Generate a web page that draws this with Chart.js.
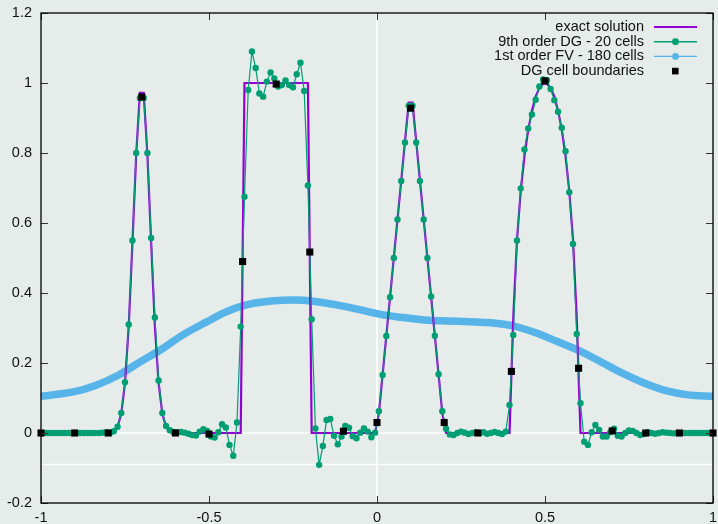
<!DOCTYPE html>
<html>
<head>
<meta charset="utf-8">
<script src="https://cdn.jsdelivr.net/npm/chart.js@4.4.0/dist/chart.umd.min.js"></script>
<style>
  html, body { margin: 0; padding: 0; background: #e5ecea; }
  canvas { display: block; }
</style>
</head>
<body>
<canvas id="advChart" width="718" height="524"></canvas>
<script>
// sample points of the DG solution, 9 per cell, 20 cells
var dgX = [
  -0.9944, -0.9833, -0.9722, -0.9611, -0.95, -0.9389, -0.9278, -0.9167, -0.9056,
  -0.8944, -0.8833, -0.8722, -0.8611, -0.85, -0.8389, -0.8278, -0.8167, -0.8056,
  -0.7944, -0.7833, -0.7722, -0.7611, -0.75, -0.7389, -0.7278, -0.7167, -0.7056,
  -0.6944, -0.6833, -0.6722, -0.6611, -0.65, -0.6389, -0.6278, -0.6167, -0.6056,
  -0.5944, -0.5833, -0.5722, -0.5611, -0.55, -0.5389, -0.5278, -0.5167, -0.5056,
  -0.4944, -0.4833, -0.4722, -0.4611, -0.45, -0.4389, -0.4278, -0.4167, -0.4056,
  -0.3944, -0.3833, -0.3722, -0.3611, -0.35, -0.3389, -0.3278, -0.3167, -0.3056,
  -0.2944, -0.2833, -0.2722, -0.2611, -0.25, -0.2389, -0.2278, -0.2167, -0.2056,
  -0.1944, -0.1833, -0.1722, -0.1611, -0.15, -0.1389, -0.1278, -0.1167, -0.1056,
  -0.0944, -0.0833, -0.0722, -0.0611, -0.05, -0.0389, -0.0278, -0.0167, -0.0056,
  0.0056, 0.0167, 0.0278, 0.0389, 0.05, 0.0611, 0.0722, 0.0833, 0.0944,
  0.1056, 0.1167, 0.1278, 0.1389, 0.15, 0.1611, 0.1722, 0.1833, 0.1944,
  0.2056, 0.2167, 0.2278, 0.2389, 0.25, 0.2611, 0.2722, 0.2833, 0.2944,
  0.3056, 0.3167, 0.3278, 0.3389, 0.35, 0.3611, 0.3722, 0.3833, 0.3944,
  0.4056, 0.4167, 0.4278, 0.4389, 0.45, 0.4611, 0.4722, 0.4833, 0.4944,
  0.5056, 0.5167, 0.5278, 0.5389, 0.55, 0.5611, 0.5722, 0.5833, 0.5944,
  0.6056, 0.6167, 0.6278, 0.6389, 0.65, 0.6611, 0.6722, 0.6833, 0.6944,
  0.7056, 0.7167, 0.7278, 0.7389, 0.75, 0.7611, 0.7722, 0.7833, 0.7944,
  0.8056, 0.8167, 0.8278, 0.8389, 0.85, 0.8611, 0.8722, 0.8833, 0.8944,
  0.9056, 0.9167, 0.9278, 0.9389, 0.95, 0.9611, 0.9722, 0.9833, 0.9944
];

var dgY = [
  0, 0, 0, 0, 0, 0, 0, 0, 0,
  0, 0, 0, 0, 0, 0, 0, 0.001, 0.002,
  0.001, 0.005, 0.018, 0.057, 0.145, 0.31, 0.55, 0.8, 0.957,
  0.957, 0.8, 0.557, 0.33, 0.15, 0.057, 0.02, 0.008, 0.003,
  0.002, 0.003, 0.001, -0.002, -0.006, -0.007, 0.004, 0.011, 0.006,
  -0.01, -0.013, 0.002, 0.025, 0.016, -0.034, -0.065, 0.03, 0.304,
  0.675, 0.98, 1.09, 1.043, 0.97, 0.961, 1.004, 1.03, 1.013,
  0.99, 0.994, 1.007, 0.994, 0.988, 1.025, 1.058, 0.977, 0.707,
  0.325, 0.013, -0.091, -0.037, 0.037, 0.04, -0.008, -0.032, -0.01,
  0.02, 0.015, -0.009, -0.015, 0.001, 0.013, 0.004, -0.012, 0.001,
  0.062, 0.166, 0.277, 0.388, 0.5, 0.61, 0.72, 0.83, 0.935,
  0.935, 0.83, 0.72, 0.61, 0.5, 0.39, 0.278, 0.168, 0.062,
  0.012, -0.004, -0.006, 0, 0.004, 0.001, -0.003, 0, 0.002,
  0, 0.002, -0.002, 0, 0.003, 0, -0.003, 0.004, 0.08,
  0.28, 0.55, 0.699, 0.81, 0.87, 0.91, 0.952, 0.99, 1.01,
  1.008, 0.983, 0.951, 0.918, 0.872, 0.805, 0.688, 0.54, 0.283,
  0.085, -0.025, -0.034, 0.002, 0.023, 0.009, -0.01, -0.01, 0.002,
  0.012, -0.008, -0.01, 0, 0.007, 0.006, 0, -0.006, -0.003,
  0.002, 0, -0.002, 0, 0.002, 0.001, 0, -0.001, 0,
  0, 0, 0, 0, 0, 0, 0, 0, 0
];

// exact solution at the same points
var exactY = [
  0, 0, 0, 0, 0, 0, 0, 0, 0,
  0, 0, 0, 0, 0, 0, 0, 0, 0,
  0.001, 0.005, 0.018, 0.055, 0.143, 0.305, 0.545, 0.795, 0.972,
  0.972, 0.795, 0.545, 0.305, 0.143, 0.055, 0.018, 0.005, 0.001,
  0, 0, 0, 0, 0, 0, 0, 0, 0,
  0, 0, 0, 0, 0, 0, 0, 0, 0,
  1, 1, 1, 1, 1, 1, 1, 1, 1,
  1, 1, 1, 1, 1, 1, 1, 1, 1,
  0, 0, 0, 0, 0, 0, 0, 0, 0,
  0, 0, 0, 0, 0, 0, 0, 0, 0,
  0.056, 0.167, 0.278, 0.389, 0.5, 0.611, 0.722, 0.833, 0.944,
  0.944, 0.833, 0.722, 0.611, 0.5, 0.389, 0.278, 0.167, 0.056,
  0, 0, 0, 0, 0, 0, 0, 0, 0,
  0, 0, 0, 0, 0, 0, 0, 0, 0,
  0.33, 0.553, 0.692, 0.792, 0.866, 0.921, 0.961, 0.986, 0.998,
  0.998, 0.986, 0.961, 0.921, 0.866, 0.792, 0.692, 0.553, 0.33,
  0, 0, 0, 0, 0, 0, 0, 0, 0,
  0, 0, 0, 0, 0, 0, 0, 0, 0,
  0, 0, 0, 0, 0, 0, 0, 0, 0,
  0, 0, 0, 0, 0, 0, 0, 0, 0
];

// DG values at the cell boundaries
var cellX = [-1, -0.9, -0.8, -0.7, -0.6, -0.5, -0.4, -0.3, -0.2, -0.1, 0,
             0.1, 0.2, 0.3, 0.4, 0.5, 0.6, 0.7, 0.8, 0.9, 1];
var cellY = [0, 0, 0, 0.96, 0, -0.003, 0.49, 0.997, 0.517, 0.005, 0.03,
             0.928, 0.03, 0, 0.176, 1.006, 0.185, 0.006, 0, 0, 0];

// 1st order FV solution (smooth)
var fvX = [-1, -0.9, -0.84, -0.77, -0.71, -0.64, -0.58, -0.51, -0.445, -0.38, -0.315,
           -0.25, -0.185, -0.12, -0.055, 0.01, 0.075, 0.14, 0.21, 0.275, 0.34,
           0.405, 0.47, 0.535, 0.6, 0.665, 0.73, 0.795, 0.86, 0.925, 1];
var fvY = [0.105, 0.118, 0.135, 0.165, 0.2, 0.24, 0.279, 0.316, 0.348, 0.368, 0.377,
           0.38, 0.376, 0.366, 0.353, 0.339, 0.33, 0.323, 0.32, 0.318, 0.315,
           0.306, 0.287, 0.262, 0.236, 0.204, 0.171, 0.143, 0.121, 0.109, 0.105];

var xTicks = [-1, -0.5, 0, 0.5, 1];
var yTicks = [-0.2, 0, 0.2, 0.4, 0.6, 0.8, 1, 1.2];
var refLinesY = [0, -0.09];
var refLinesX = [0];

var seriesNames = ['exact solution', '9th order DG - 20 cells', '1st order FV - 180 cells', 'DG cell boundaries'];
var seriesColors = ['#9400d3', '#009e73', '#56b4e9', '#000000'];

function toPoints(xs, ys) {
  return xs.map(function (x, i) { return { x: x, y: ys[i] }; });
}

var FONT = '"Liberation Sans", Arial, sans-serif';

// white zero lines and the legend, under the data
var backPlugin = {
  id: 'backLines',
  beforeDatasetsDraw: function (chart) {
    var ctx = chart.ctx, a = chart.chartArea;
    var xs = chart.scales.x, ys = chart.scales.y;
    ctx.save();
    ctx.strokeStyle = '#ffffff';
    ctx.lineWidth = 1.5;
    refLinesY.forEach(function (v) {
      var p = ys.getPixelForValue(v);
      ctx.beginPath(); ctx.moveTo(a.left, p); ctx.lineTo(a.right, p); ctx.stroke();
    });
    refLinesX.forEach(function (v) {
      var p = xs.getPixelForValue(v);
      ctx.beginPath(); ctx.moveTo(p, a.top); ctx.lineTo(p, a.bottom); ctx.stroke();
    });

    // legend
    ctx.font = '14.5px ' + FONT;
    ctx.textAlign = 'right';
    ctx.textBaseline = 'middle';
    seriesNames.forEach(function (name, i) {
      var y = 27 + i * 14.7;
      ctx.fillStyle = '#111';
      ctx.fillText(name, 644, y);
      ctx.strokeStyle = seriesColors[i];
      ctx.fillStyle = seriesColors[i];
      if (i < 3) {
        ctx.lineWidth = i === 0 ? 2.2 : 1.4;
        ctx.beginPath(); ctx.moveTo(654, y); ctx.lineTo(697, y); ctx.stroke();
      }
      if (i === 1 || i === 2) {
        ctx.beginPath(); ctx.arc(675.5, y, 3.4, 0, Math.PI * 2); ctx.fill();
      }
      if (i === 3) {
        ctx.fillRect(672, y - 3.3, 6.6, 6.6);
      }
    });
    ctx.restore();
  }
};

// frame and inward ticks on all four sides
var framePlugin = {
  id: 'frameTicks',
  afterDatasetsDraw: function (chart) {
    var ctx = chart.ctx, a = chart.chartArea;
    var xs = chart.scales.x, ys = chart.scales.y;
    ctx.save();
    ctx.strokeStyle = '#333';
    ctx.lineWidth = 1;
    xTicks.forEach(function (v) {
      var p = Math.round(xs.getPixelForValue(v)) + 0.5;
      ctx.beginPath();
      ctx.moveTo(p, a.bottom); ctx.lineTo(p, a.bottom - 7);
      ctx.moveTo(p, a.top); ctx.lineTo(p, a.top + 7);
      ctx.stroke();
    });
    yTicks.forEach(function (v) {
      var p = Math.round(ys.getPixelForValue(v)) + 0.5;
      ctx.beginPath();
      ctx.moveTo(a.left, p); ctx.lineTo(a.left + 7, p);
      ctx.moveTo(a.right, p); ctx.lineTo(a.right - 7, p);
      ctx.stroke();
    });
    ctx.strokeStyle = '#000';
    ctx.lineWidth = 1.3;
    ctx.strokeRect(a.left, a.top, a.right - a.left, a.bottom - a.top);
    ctx.restore();
  }
};

var ctx = document.getElementById('advChart').getContext('2d');

var advChart = new Chart(ctx, {
  type: 'line',
  data: {
    datasets: [
      {
        label: seriesNames[3],
        data: toPoints(cellX, cellY),
        showLine: false,
        pointStyle: 'rect',
        pointRadius: 5,
        pointBorderWidth: 0,
        pointBackgroundColor: '#000000',
        clip: false
      },
      {
        label: seriesNames[1],
        data: toPoints(dgX, dgY),
        borderColor: '#009e73',
        borderWidth: 1.2,
        pointRadius: 3.2,
        pointBorderWidth: 0,
        pointBackgroundColor: '#009e73'
      },
      {
        label: seriesNames[0],
        data: toPoints(dgX, exactY),
        borderColor: '#9400d3',
        borderWidth: 2.2,
        pointRadius: 0
      },
      {
        label: seriesNames[2],
        data: toPoints(fvX, fvY),
        borderColor: '#56b4e9',
        borderWidth: 7.5,
        cubicInterpolationMode: 'monotone',
        pointRadius: 0
      }
    ]
  },
  options: {
    responsive: false,
    animation: false,
    devicePixelRatio: 1,
    events: [],
    layout: { padding: { top: 13, right: 3, left: 0, bottom: 0 } },
    plugins: {
      legend: { display: false },
      tooltip: { enabled: false }
    },
    scales: {
      x: {
        type: 'linear',
        min: -1,
        max: 1,
        afterBuildTicks: function (axis) {
          axis.ticks = xTicks.map(function (v) { return { value: v }; });
        },
        afterFit: function (axis) {
          axis.height = 21;
          axis.paddingLeft = 0; axis.paddingRight = 0;
          axis.paddingTop = 0; axis.paddingBottom = 0;
        },
        grid: { display: false, drawTicks: false },
        border: { display: false },
        ticks: {
          color: '#111',
          font: { family: FONT, size: 14.5 },
          padding: 6,
          maxRotation: 0,
          autoSkip: false,
          callback: function (v) { return String(v); }
        }
      },
      y: {
        min: -0.2,
        max: 1.2,
        afterBuildTicks: function (axis) {
          axis.ticks = yTicks.map(function (v) { return { value: v }; });
        },
        afterFit: function (axis) {
          axis.width = 41;
          axis.paddingLeft = 0; axis.paddingRight = 0;
          axis.paddingTop = 0; axis.paddingBottom = 0;
        },
        grid: { display: false, drawTicks: false },
        border: { display: false },
        ticks: {
          color: '#111',
          font: { family: FONT, size: 14.5 },
          padding: 9,
          callback: function (v) { return String(Math.round(v * 10) / 10); }
        }
      }
    }
  },
  plugins: [backPlugin, framePlugin]
});
</script>
</body>
</html>
